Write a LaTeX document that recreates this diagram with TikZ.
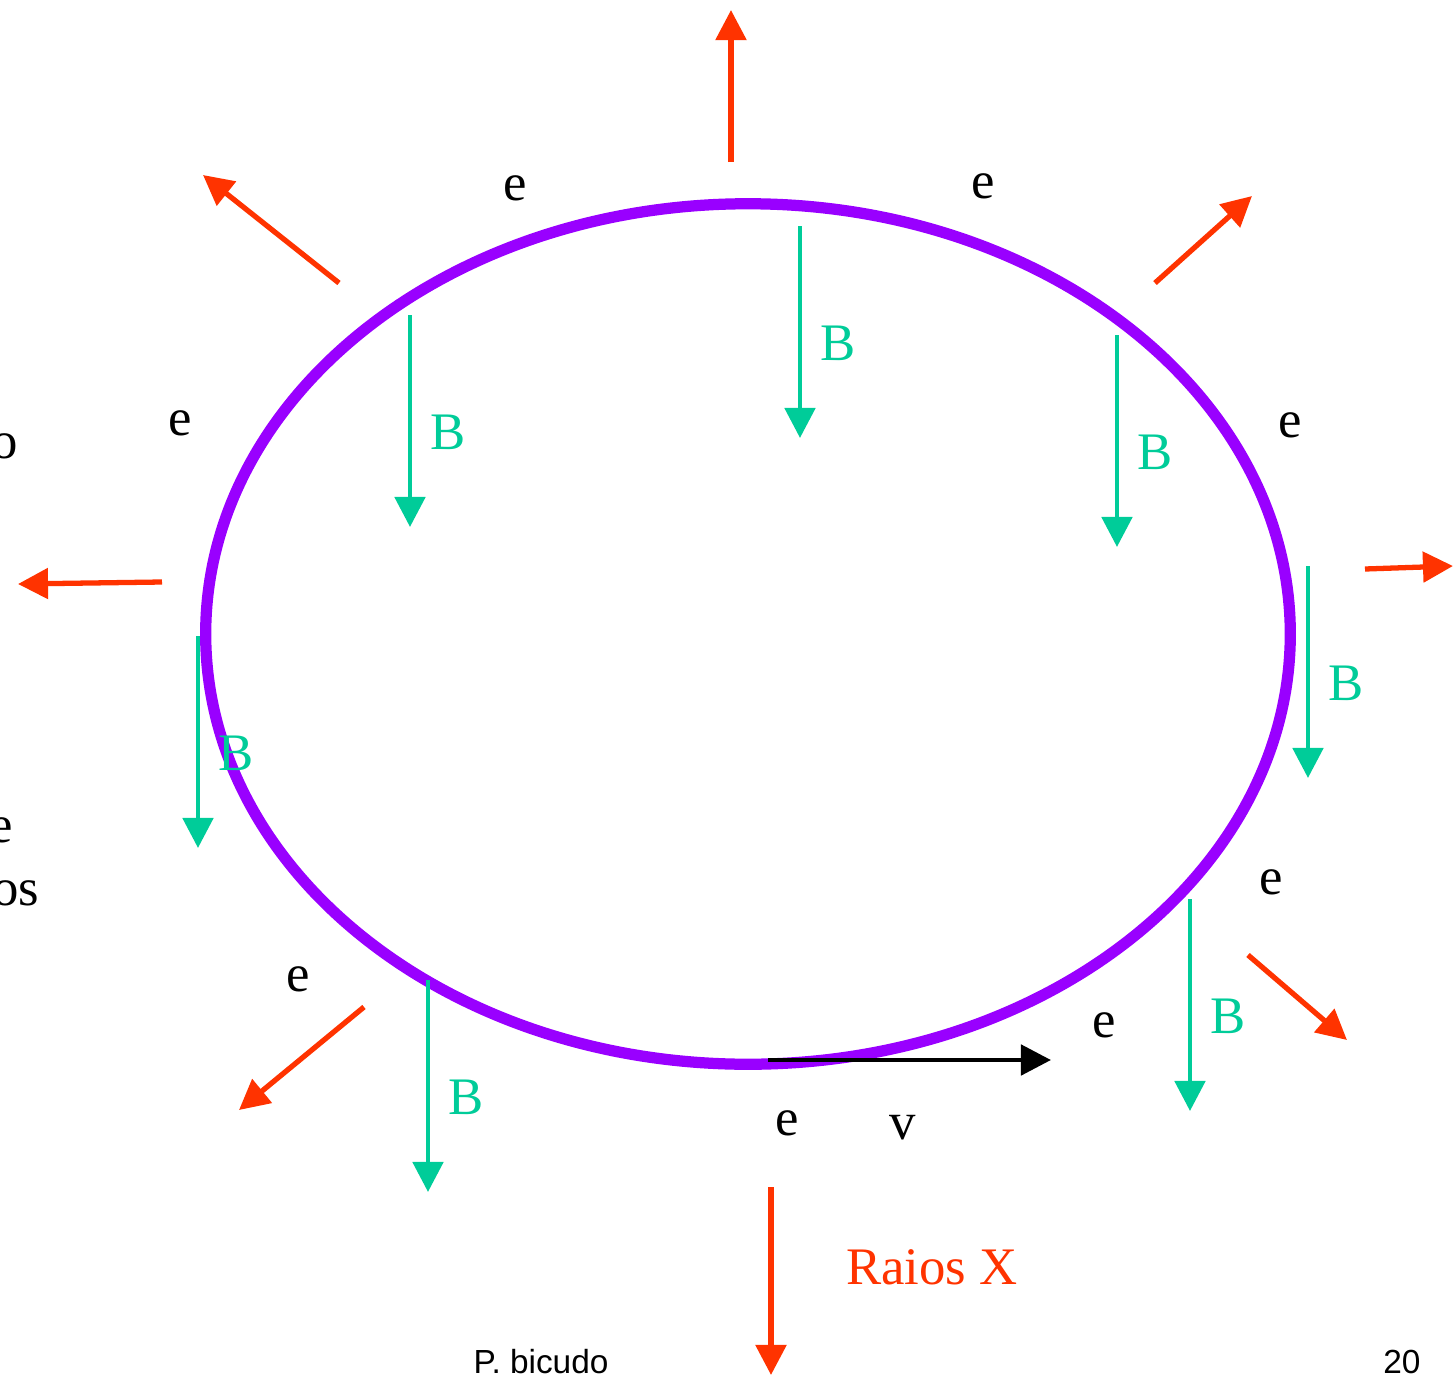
\documentclass[tikz,border=0pt]{standalone}
\usepackage{fontspec}
\setmainfont{Liberation Serif}
\setsansfont{Liberation Sans}
\usetikzlibrary{arrows.meta}
\definecolor{ringviolet}{HTML}{9900FF}
\definecolor{rayred}{HTML}{FF3300}
\definecolor{fieldgreen}{HTML}{00CC99}

\begin{document}
\begin{tikzpicture}[x=0.01cm, y=-0.01cm,
    ray/.style={draw=rayred, line width=1.5pt, -{Triangle[length=0.3cm, width=0.3cm]}},
    field/.style={draw=fieldgreen, line width=1.4pt, -{Triangle[length=0.3cm, width=0.3cm]}},
    lbl/.style={inner sep=0pt, font=\fontsize{15}{18}\selectfont},
    blbl/.style={lbl, text=fieldgreen}]
  \useasboundingbox (0,0) rectangle (1453,1375);

  % electron ring
  \draw[ringviolet, line width=3.2pt] (748,634) ellipse [x radius=5.42cm, y radius=4.30cm];

  % magnetic field
  \foreach \name/\x/\y in {f1/800/226, f2/410/315, f3/1117/335, f4/1308/566,
                           f5/198/636, f6/1190/899, f7/428/980} {
    \coordinate (\name s) at (\x,\y);
    \coordinate (\name e) at (\x,\y+212);
    \draw[field] (\name s) -- (\name e);
    \node[blbl] (\name b) at (\x+38,\y+117) {B};
  }

  % x-rays
  \coordinate (r1s) at (731,162);  \coordinate (r1e) at (731,10);
  \coordinate (r2s) at (339,283);  \coordinate (r2e) at (203,175);
  \coordinate (r3s) at (1155,283); \coordinate (r3e) at (1252,196);
  \coordinate (r4s) at (162,582);  \coordinate (r4e) at (18,584);
  \coordinate (r5s) at (1365,569); \coordinate (r5e) at (1453,566);
  \coordinate (r6s) at (1248,955); \coordinate (r6e) at (1347,1040);
  \coordinate (r7s) at (364,1007); \coordinate (r7e) at (239,1110);
  \coordinate (r8s) at (771,1187); \coordinate (r8e) at (771,1375);
  \foreach \i in {1,...,8}
    \draw[ray] (r\i s) -- (r\i e);

  % velocity
  \coordinate (vs) at (768,1060);
  \coordinate (ve) at (1051,1060);
  \draw[line width=1.4pt, -{Triangle[length=0.3cm, width=0.3cm]}] (vs) -- (ve);
  \node[lbl] (v) at (903,1128) {v};

  % electrons
  \foreach \name/\x/\y in {e1/515/188, e2/983/186, e3/180/423, e4/1290/425,
                           e5/1271/882, e6/298/979, e7/1104/1025, e8/787/1123}
    \node[lbl] (\name) at (\x,\y) {e};

  % cut-off text on the left
  \node[lbl, anchor=east] (cut1) at (19,446) {o};
  \node[lbl, anchor=east] (cut2) at (14,830) {e};
  \node[lbl, anchor=east] (cut3) at (40,893) {os};

  \node[inner sep=0pt, text=rayred, font=\fontsize{15}{18}\selectfont] (xr) at (932,1267) {Raios X};

  % footer
  \node[inner sep=0pt, font=\sffamily\fontsize{9.5}{11}\selectfont] (auth) at (541,1362) {P. bicudo};
  \node[inner sep=0pt, font=\sffamily\fontsize{9.5}{11}\selectfont] (page) at (1402,1362) {20};
\end{tikzpicture}
\end{document}
